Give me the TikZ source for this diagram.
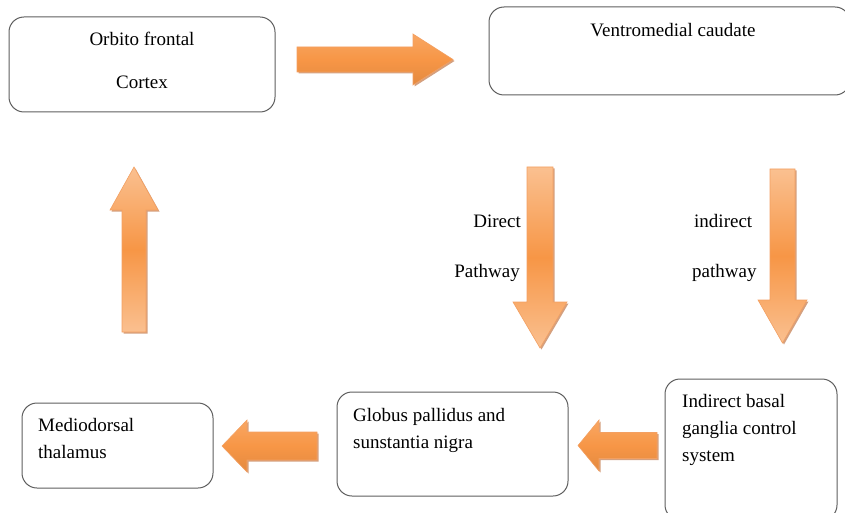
\documentclass[tikz,border=0pt]{standalone}
\usepackage{fontspec}
\setmainfont{Liberation Serif}
\usetikzlibrary{calc}

\definecolor{arrowmid}{HTML}{F79646}
\definecolor{arrowlight}{HTML}{FAC090}
\definecolor{arrowedge}{HTML}{F3A062}
\definecolor{arrowshade}{HTML}{B8612A}
\definecolor{boxline}{HTML}{5E5E5E}

\tikzset{
  roundbox/.style={draw=boxline, line width=1pt, rounded corners=15pt, inner sep=0pt},
  boxtext/.style={inner sep=0pt, font=\fontsize{19}{27}\selectfont},
  vshade/.style={top color=arrowlight, bottom color=arrowlight, middle color=arrowmid, draw=arrowedge, line width=0.6pt},
  hshade/.style={top color=arrowmid!60!arrowlight, bottom color=arrowmid!92!black, middle color=arrowmid, draw=arrowedge, line width=0.6pt},
  dropshade/.style={fill=arrowshade, opacity=0.6, transform canvas={shift={(1.5pt,-1.5pt)}}}
}

% #1 style, #2 tail, #3 tip, #4 shaft half width, #5 head half width, #6 head length
\newcommand{\blockarrow}[6]{%
  \coordinate (hb) at ($(#3)!#6!(#2)$);
  \foreach \sty in {dropshade,#1}
    \path[\sty] ($(#2)!#4!90:(#3)$) -- ($(hb)!#4!90:(#3)$) -- ($(hb)!#5!90:(#3)$) -- (#3)
      -- ($(hb)!#5!-90:(#3)$) -- ($(hb)!#4!-90:(#3)$) -- ($(#2)!#4!-90:(#3)$) -- cycle;
}

\begin{document}
\begin{tikzpicture}[x=1pt,y=-1pt]
\useasboundingbox (0,0) rectangle (845,513);

% boxes
\node[roundbox, minimum width=266pt, minimum height=95pt] (orbito) at (142,64.5) {};
\node[roundbox, minimum width=361pt, minimum height=88pt] (caudate) at (669.5,51) {};
\node[roundbox, minimum width=191pt, minimum height=85pt] (thalamus) at (117.5,445.5) {};
\node[roundbox, minimum width=231pt, minimum height=104pt] (globus) at (452.5,444) {};
\node[roundbox, minimum width=172pt, minimum height=141pt] (indirect) at (751,449.5) {};

% box texts
\node[boxtext, align=center, anchor=north] (orbito-t) at (142,31.5) {Orbito frontal\\[16pt]Cortex};
\node[boxtext, anchor=base] (caudate-t) at (673,37) {Ventromedial caudate};
\node[boxtext, align=left, anchor=north west] (thalamus-t) at (38,418.5) {Mediodorsal\\thalamus};
\node[boxtext, align=left, anchor=north west] (globus-t) at (353,408.5) {Globus pallidus and\\sunstantia nigra};
\node[boxtext, align=left, anchor=north west] (indirect-t) at (682,394.5) {Indirect basal\\ganglia control\\system};

% pathway labels
\node[boxtext, anchor=base east] (direct-l1) at (521,227) {Direct};
\node[boxtext, anchor=base east] (direct-l2) at (520,277) {Pathway};
\node[boxtext, anchor=base west] (indir-l1) at (694,227) {indirect};
\node[boxtext, anchor=base west] (indir-l2) at (692,277) {pathway};

% arrow ends
\coordinate (oc-tail) at (297,59.5);   \coordinate (oc-tip) at (453,59.5);
\coordinate (dir-tail) at (540,167);   \coordinate (dir-tip) at (540,348);
\coordinate (ind-tail) at (782.5,169); \coordinate (ind-tip) at (782.5,343);
\coordinate (ig-tail) at (657,445.5);  \coordinate (ig-tip) at (578,445.5);
\coordinate (gt-tail) at (317,446);    \coordinate (gt-tip) at (222,446);
\coordinate (to-tail) at (134,332);    \coordinate (to-tip) at (134,167);

% block arrows
\blockarrow{hshade}{oc-tail}{oc-tip}{12.5pt}{25.5pt}{40pt}
\blockarrow{vshade}{dir-tail}{dir-tip}{13pt}{27pt}{46pt}
\blockarrow{vshade}{ind-tail}{ind-tip}{12.5pt}{24.5pt}{43pt}
\blockarrow{hshade}{ig-tail}{ig-tip}{13pt}{25.5pt}{21pt}
\blockarrow{hshade}{gt-tail}{gt-tip}{14pt}{26pt}{25pt}
\blockarrow{vshade}{to-tail}{to-tip}{12pt}{24pt}{43pt}
\end{tikzpicture}
\end{document}
